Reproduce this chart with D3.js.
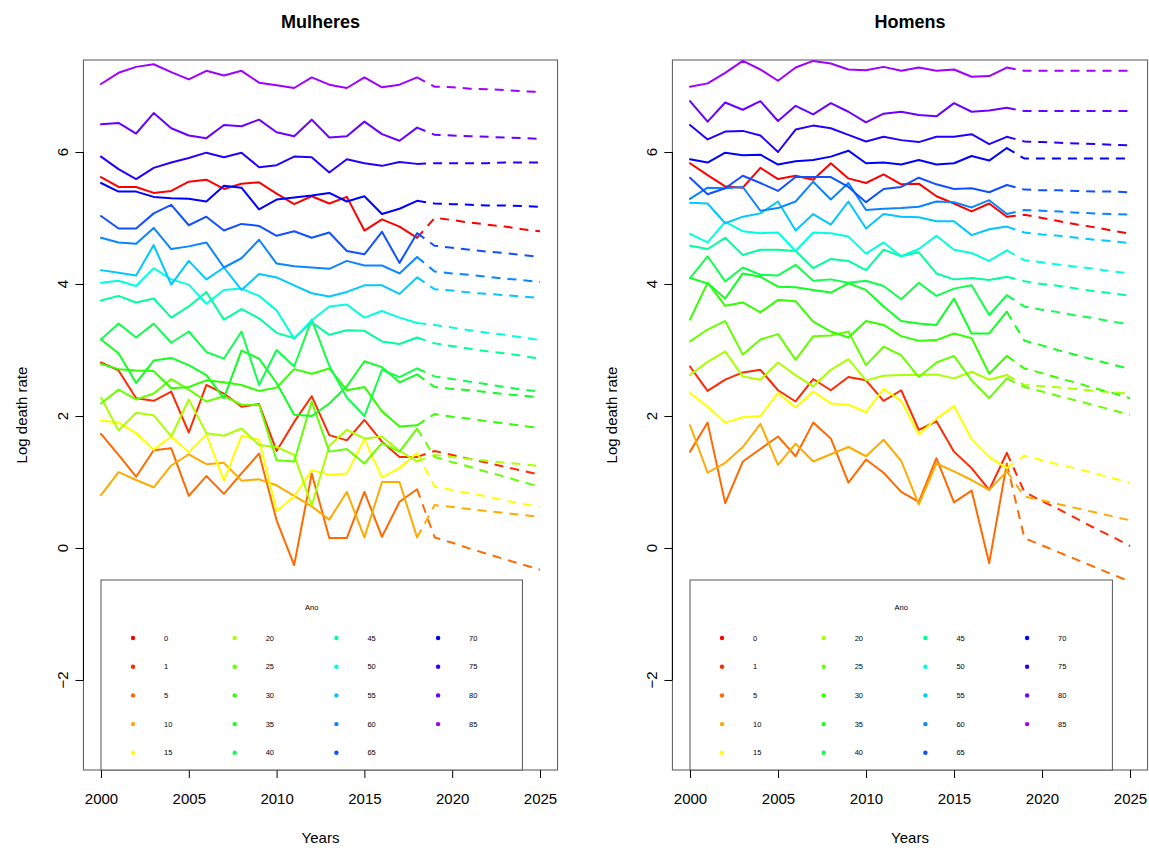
<!DOCTYPE html>
<html>
<head>
<meta charset="utf-8">
<script src="https://cdn.jsdelivr.net/npm/d3@7/dist/d3.min.js"></script>
<style>
  body { margin: 0; background: #fff; }
  svg text { font-family: "Liberation Sans", Arial, Helvetica, sans-serif; fill: #000; }
</style>
</head>
<body>
<svg id="chart" width="1149" height="848"></svg>
<script>
// ---- data ----
const years = [2000, 2001, 2002, 2003, 2004, 2005, 2006, 2007, 2008, 2009,
               2010, 2011, 2012, 2013, 2014, 2015, 2016, 2017, 2018];
const forecastYears = [2019, 2020, 2021, 2022, 2023, 2024, 2025];
const ages = ["0", "1", "5", "10", "15", "20", "25", "30", "35", "40",
              "45", "50", "55", "60", "65", "70", "75", "80", "85"];
const xTicks = [2000, 2005, 2010, 2015, 2020, 2025];
const yTicks = [-2, 0, 2, 4, 6];

// log death rate by age (rows follow `ages`), observed 2000-2018
const femaleObs = [
  [5.62,5.47,5.47,5.38,5.41,5.55,5.58,5.44,5.52,5.54,5.37,5.21,5.33,5.22,5.32,4.81,4.98,4.87,4.70],
  [2.81,2.69,2.27,2.23,2.37,1.75,2.47,2.34,2.14,2.18,1.47,1.91,2.30,1.71,1.63,1.94,1.61,1.38,1.38],
  [1.73,1.41,1.08,1.48,1.51,0.79,1.09,0.82,1.13,1.43,0.42,-0.26,1.13,0.15,0.15,0.85,0.17,0.70,0.89],
  [0.80,1.15,1.03,0.92,1.25,1.42,1.27,1.29,1.02,1.04,0.95,0.79,0.63,0.43,0.85,0.16,1.00,1.00,0.16],
  [1.93,1.90,1.74,1.49,1.69,1.45,1.72,1.02,1.70,1.64,0.56,0.78,1.18,1.11,1.13,1.65,1.07,1.21,1.44],
  [2.28,1.78,2.05,2.01,1.69,2.25,1.74,1.70,1.81,1.56,1.53,1.41,0.64,1.55,1.79,1.66,1.69,1.47,1.31],
  [2.19,2.40,2.25,2.34,2.56,2.40,2.22,2.30,2.17,2.17,1.33,1.31,2.22,1.46,1.50,1.28,1.59,1.46,1.81],
  [2.79,2.71,2.69,2.68,2.42,2.44,2.54,2.51,2.47,2.38,2.43,2.71,2.64,2.72,2.39,2.44,2.07,1.84,1.86],
  [3.16,2.95,2.50,2.84,2.88,2.77,2.62,2.27,2.99,2.87,2.50,2.02,2.00,2.19,2.45,2.83,2.74,2.51,2.63],
  [3.16,3.40,3.19,3.40,3.11,3.28,2.97,2.87,3.28,2.47,3.00,2.75,3.46,2.76,2.28,2.00,2.70,2.59,2.72],
  [3.75,3.82,3.72,3.78,3.49,3.66,3.88,3.46,3.62,3.48,3.26,3.18,3.42,3.23,3.30,3.29,3.13,3.09,3.19],
  [4.02,4.05,3.97,4.24,4.07,3.99,3.70,3.91,3.93,3.82,3.60,3.17,3.45,3.66,3.69,3.49,3.59,3.49,3.41],
  [4.21,4.17,4.13,4.59,3.99,4.35,4.07,4.25,3.91,4.15,4.10,3.98,3.86,3.81,3.88,3.98,3.98,3.85,4.10],
  [4.70,4.63,4.61,4.85,4.53,4.57,4.63,4.25,4.39,4.67,4.31,4.27,4.25,4.23,4.35,4.28,4.28,4.16,4.41],
  [5.03,4.84,4.84,5.07,5.20,4.89,5.02,4.81,4.91,4.88,4.73,4.80,4.70,4.78,4.50,4.45,4.79,4.32,4.77],
  [5.53,5.40,5.40,5.32,5.30,5.29,5.25,5.49,5.46,5.13,5.28,5.31,5.34,5.38,5.25,5.33,5.06,5.14,5.26],
  [5.93,5.74,5.59,5.76,5.84,5.91,5.99,5.92,5.99,5.77,5.80,5.93,5.92,5.69,5.89,5.83,5.79,5.85,5.82],
  [6.42,6.44,6.28,6.59,6.36,6.25,6.21,6.41,6.39,6.49,6.30,6.24,6.49,6.22,6.24,6.46,6.27,6.17,6.37],
  [7.03,7.20,7.29,7.33,7.21,7.10,7.23,7.16,7.23,7.05,7.01,6.97,7.13,7.02,6.97,7.13,6.98,7.02,7.13]
];

// forecast 2019-2025
const femaleFc = [
  [5.00,4.97,4.93,4.90,4.87,4.83,4.80],
  [1.47,1.41,1.35,1.29,1.23,1.17,1.11],
  [0.16,0.08,-0.01,-0.09,-0.17,-0.25,-0.33],
  [0.65,0.62,0.59,0.56,0.53,0.50,0.47],
  [0.93,0.88,0.83,0.78,0.72,0.67,0.62],
  [1.41,1.38,1.35,1.32,1.29,1.27,1.24],
  [1.38,1.30,1.23,1.15,1.08,1.00,0.93],
  [2.03,1.99,1.96,1.92,1.89,1.85,1.82],
  [2.44,2.41,2.39,2.36,2.33,2.31,2.28],
  [2.60,2.56,2.52,2.48,2.44,2.40,2.37],
  [3.10,3.06,3.02,2.98,2.95,2.91,2.87],
  [3.38,3.34,3.30,3.26,3.23,3.19,3.15],
  [3.92,3.90,3.87,3.85,3.83,3.81,3.79],
  [4.19,4.16,4.14,4.11,4.08,4.06,4.03],
  [4.58,4.55,4.52,4.49,4.47,4.44,4.41],
  [5.22,5.21,5.20,5.19,5.19,5.18,5.17],
  [5.83,5.83,5.83,5.83,5.84,5.84,5.84],
  [6.26,6.25,6.24,6.23,6.22,6.21,6.20],
  [6.99,6.98,6.96,6.95,6.94,6.92,6.91]
];

const maleObs = [
  [5.83,5.65,5.48,5.46,5.76,5.59,5.64,5.58,5.83,5.60,5.53,5.66,5.51,5.52,5.33,5.22,5.10,5.22,5.02],
  [2.75,2.38,2.55,2.66,2.70,2.39,2.22,2.56,2.39,2.59,2.54,2.23,2.39,1.79,1.92,1.46,1.21,0.88,1.44],
  [1.46,1.90,0.68,1.31,1.50,1.69,1.39,1.90,1.66,0.99,1.34,1.14,0.85,0.70,1.36,0.69,0.87,-0.23,1.28],
  [1.86,1.14,1.29,1.53,1.88,1.26,1.58,1.31,1.42,1.53,1.39,1.64,1.32,0.66,1.28,1.16,1.03,0.88,1.16],
  [2.35,2.14,1.90,1.98,2.00,2.35,2.13,2.37,2.19,2.17,2.06,2.41,2.23,1.72,1.96,2.15,1.65,1.38,1.21],
  [2.62,2.82,2.98,2.60,2.55,2.81,2.62,2.45,2.70,2.86,2.54,2.61,2.62,2.62,2.63,2.57,2.67,2.55,2.62],
  [3.13,3.31,3.44,2.93,3.16,3.24,2.85,3.21,3.22,3.28,2.77,3.05,2.92,2.59,2.81,2.91,2.54,2.27,2.57],
  [3.46,4.02,3.67,3.72,3.57,3.76,3.74,3.43,3.28,3.19,3.44,3.38,3.21,3.14,3.15,3.25,3.18,2.64,2.91],
  [4.09,4.01,3.78,4.16,4.11,3.96,3.95,3.91,3.87,4.01,3.91,3.66,3.44,3.40,3.38,3.78,3.25,3.25,3.58],
  [4.09,4.42,4.04,4.25,4.14,4.13,4.29,4.05,4.07,4.02,4.05,3.97,3.77,4.02,3.82,3.93,3.98,3.53,3.83],
  [4.58,4.53,4.70,4.44,4.52,4.52,4.50,4.24,4.38,4.35,4.21,4.52,4.42,4.48,4.16,4.07,4.09,4.06,4.11],
  [4.76,4.63,4.94,4.80,4.77,4.78,4.50,4.78,4.77,4.72,4.46,4.63,4.42,4.53,4.73,4.52,4.47,4.35,4.51],
  [5.23,5.22,4.92,5.02,5.07,5.25,4.81,5.06,4.90,5.25,4.84,5.06,5.02,5.01,4.95,4.95,4.74,4.83,4.87],
  [5.29,5.46,5.45,5.47,5.11,5.15,5.25,5.55,5.28,5.53,5.12,5.14,5.15,5.17,5.25,5.24,5.16,5.27,5.06],
  [5.61,5.36,5.45,5.64,5.53,5.41,5.62,5.62,5.62,5.47,5.24,5.44,5.47,5.61,5.51,5.44,5.45,5.39,5.50],
  [5.89,5.84,5.99,5.95,5.96,5.81,5.86,5.88,5.93,6.02,5.83,5.84,5.81,5.88,5.81,5.83,5.94,5.87,6.06],
  [6.41,6.19,6.31,6.32,6.25,6.00,6.34,6.40,6.36,6.26,6.16,6.23,6.18,6.15,6.23,6.23,6.27,6.12,6.23],
  [6.77,6.46,6.75,6.64,6.77,6.47,6.70,6.57,6.74,6.61,6.45,6.58,6.61,6.56,6.54,6.74,6.61,6.63,6.67],
  [6.99,7.04,7.20,7.38,7.25,7.08,7.28,7.38,7.34,7.25,7.24,7.29,7.23,7.28,7.23,7.25,7.14,7.15,7.28]
];

const maleFc = [
  [5.05,5.00,4.95,4.90,4.86,4.81,4.76],
  [0.85,0.71,0.58,0.44,0.30,0.17,0.03],
  [0.15,0.04,-0.07,-0.18,-0.29,-0.40,-0.51],
  [0.78,0.72,0.66,0.60,0.54,0.48,0.42],
  [1.40,1.33,1.26,1.20,1.13,1.06,0.99],
  [2.47,2.45,2.43,2.41,2.38,2.36,2.34],
  [2.44,2.37,2.30,2.23,2.16,2.09,2.02],
  [2.72,2.65,2.57,2.50,2.42,2.35,2.27],
  [3.14,3.07,2.99,2.92,2.85,2.78,2.71],
  [3.66,3.61,3.57,3.52,3.48,3.43,3.39],
  [4.04,4.00,3.97,3.93,3.89,3.86,3.82],
  [4.36,4.33,4.29,4.26,4.23,4.19,4.16],
  [4.78,4.75,4.73,4.70,4.67,4.65,4.62],
  [5.12,5.11,5.10,5.08,5.07,5.06,5.05],
  [5.43,5.42,5.42,5.41,5.40,5.40,5.39],
  [5.90,5.90,5.90,5.90,5.90,5.90,5.90],
  [6.16,6.15,6.14,6.13,6.12,6.11,6.10],
  [6.62,6.62,6.62,6.62,6.62,6.62,6.62],
  [7.23,7.23,7.23,7.23,7.23,7.23,7.23]
];

// rainbow palette, one colour per age group
const palette = ["#FF0000", "#FF2A00", "#FF6A00", "#FFAA00", "#FFFF00", "#AAFF00",
                 "#66FF00", "#33FF00", "#11FF22", "#11FF4C", "#00FF9A", "#00FFE0",
                 "#00C8FF", "#0A84FF", "#1050FF", "#0000FF", "#2200FF", "#6A00FF", "#A000FF"];

// ---- layout ----
const svg = d3.select("#chart");
const plotTop = 60, plotBottom = 770;

const y = d3.scaleLinear()
  .domain([-3.364, 7.394])
  .range([plotBottom, plotTop]);

const color = d3.scaleOrdinal().domain(ages).range(palette);

const panels = [
  { title: "Mulheres", obs: femaleObs, fc: femaleFc, px2000: 101, px2025: 540, ylabX: 27 },
  { title: "Homens",   obs: maleObs,   fc: maleFc,   px2000: 690, px2025: 1130, ylabX: 617 }
];

panels.forEach(p => drawPanel(p));

function drawPanel(p) {
  const x = d3.scaleLinear().domain([2000, 2025]).range([p.px2000, p.px2025]);
  const left = x(1999), right = x(2026);
  const g = svg.append("g");

  // plot box
  g.append("rect")
    .attr("x", left).attr("y", plotTop)
    .attr("width", right - left).attr("height", plotBottom - plotTop)
    .attr("fill", "none").attr("stroke", "#555").attr("stroke-width", 1);

  // title
  g.append("text")
    .attr("x", (left + right) / 2).attr("y", 28)
    .attr("text-anchor", "middle")
    .attr("font-size", "18px").attr("font-weight", "bold")
    .text(p.title);

  const line = d3.line()
    .x(d => x(d[0]))
    .y(d => y(d[1]));

  // observed (solid) and forecast (dashed, starting from the last observed year)
  ages.forEach((age, i) => {
    const obsPts = years.map((yr, j) => [yr, p.obs[i][j]]);
    const fcPts = [obsPts[obsPts.length - 1]].concat(forecastYears.map((yr, j) => [yr, p.fc[i][j]]));

    g.append("path")
      .datum(obsPts)
      .attr("d", line)
      .attr("fill", "none")
      .attr("stroke", color(age))
      .attr("stroke-width", 2)
      .attr("stroke-linejoin", "round")
      .attr("stroke-linecap", "round");

    g.append("path")
      .datum(fcPts)
      .attr("d", line)
      .attr("fill", "none")
      .attr("stroke", color(age))
      .attr("stroke-width", 2)
      .attr("stroke-dasharray", "9,7");
  });

  // x axis
  const xAxis = g.append("g")
    .attr("transform", "translate(0," + plotBottom + ")")
    .call(d3.axisBottom(x).tickValues(xTicks).tickSize(8).tickSizeOuter(0).tickFormat(d3.format("d")));
  xAxis.select(".domain").remove();
  xAxis.selectAll("text").attr("font-size", "15px").attr("dy", "1.55em")
    .style("font-family", "'Liberation Sans', Arial, sans-serif");

  // y axis
  const yAxis = g.append("g")
    .attr("transform", "translate(" + left + ",0)")
    .call(d3.axisLeft(y).tickValues(yTicks).tickSize(8).tickSizeOuter(0).tickFormat(d3.format("d")));
  yAxis.select(".domain").remove();
  yAxis.selectAll("text").remove();
  yAxis.append("line")
    .attr("x1", 0).attr("x2", 0)
    .attr("y1", y(yTicks[0])).attr("y2", y(yTicks[yTicks.length - 1]))
    .attr("stroke", "#000");
  yTicks.forEach(v => {
    const tx = -15, ty = y(v);
    yAxis.append("text")
      .attr("x", tx).attr("y", ty)
      .attr("transform", "rotate(-90," + tx + "," + ty + ")")
      .attr("text-anchor", "middle")
      .attr("font-size", "15px")
      .text(d3.format("d")(v));
  });

  // axis titles
  g.append("text")
    .attr("x", (left + right) / 2).attr("y", 843)
    .attr("text-anchor", "middle").attr("font-size", "15px")
    .text("Years");
  g.append("text")
    .attr("transform", "translate(" + p.ylabX + "," + (plotTop + plotBottom) / 2 + ") rotate(-90)")
    .attr("text-anchor", "middle").attr("font-size", "15px")
    .text("Log death rate");

  // legend box
  const lx = x(2000), lr = x(2024), ly = 580;
  const leg = g.append("g");
  leg.append("rect")
    .attr("x", lx).attr("y", ly)
    .attr("width", lr - lx).attr("height", plotBottom - ly)
    .attr("fill", "#fff").attr("stroke", "#555").attr("stroke-width", 1);
  leg.append("text")
    .attr("x", (lx + lr) / 2).attr("y", 610)
    .attr("text-anchor", "middle").attr("font-size", "7.5px")
    .text("Ano");

  const colStep = 101.7, rowStep = 28.7, perCol = 5;
  ages.forEach((age, i) => {
    const col = Math.floor(i / perCol), row = i % perCol;
    const cx = lx + 32 + col * colStep, cy = 638 + row * rowStep;
    leg.append("circle")
      .attr("cx", cx).attr("cy", cy).attr("r", 2.2)
      .attr("fill", color(age));
    leg.append("text")
      .attr("x", cx + 31).attr("y", cy + 2.6)
      .attr("font-size", "7.5px")
      .text(age);
  });
}
</script>
</body>
</html>
